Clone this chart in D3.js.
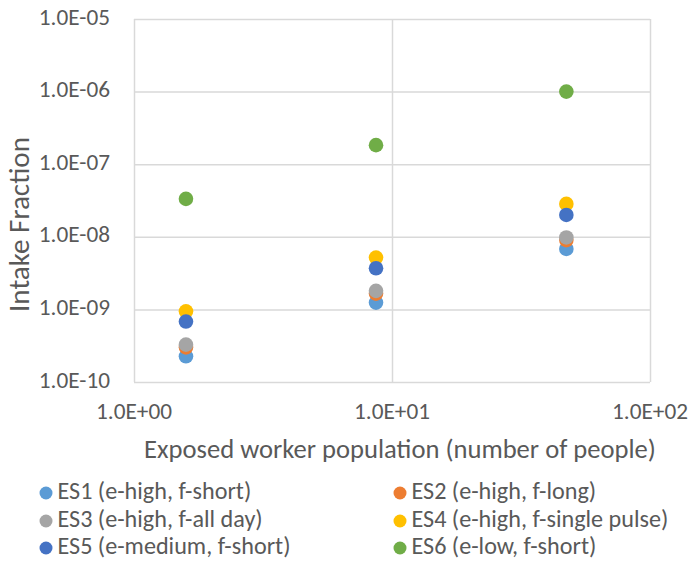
<!DOCTYPE html>
<html>
<head>
<meta charset="utf-8">
<script src="https://cdn.jsdelivr.net/npm/d3@7"></script>
<style>
  html, body { margin: 0; padding: 0; background: #fff; }
  svg { display: block; }
  text { font-family: Carlito, Calibri, Lato, "Open Sans", sans-serif; fill: #595959; }
</style>
</head>
<body>
<svg id="chart" width="691" height="563"></svg>
<script>
// ---- data ----
const xValues = [1.59, 8.67, 47.4];   // exposed worker population
const seriesNames = [
  "ES1 (e-high, f-short)",
  "ES2 (e-high, f-long)",
  "ES3 (e-high, f-all day)",
  "ES4 (e-high, f-single pulse)",
  "ES5 (e-medium, f-short)",
  "ES6 (e-low, f-short)"
];
const es1 = [2.26e-10, 1.24e-9, 6.8e-9];
const es2 = [3.0e-10, 1.65e-9, 9.0e-9];
const es3 = [3.27e-10, 1.80e-9, 9.8e-9];
const es4 = [9.4e-10, 5.18e-9, 2.84e-8];
const es5 = [6.8e-10, 3.69e-9, 2.0e-8];
const es6 = [3.33e-8, 1.83e-7, 1.0e-6];
const seriesColors = ["#5B9BD5", "#ED7D31", "#A5A5A5", "#FFC000", "#4472C4", "#70AD47"];
const xTickValues = [1, 10, 100];
const xTickLabels = ["1.0E+00", "1.0E+01", "1.0E+02"];
const yTickValues = [1e-10, 1e-9, 1e-8, 1e-7, 1e-6, 1e-5];
const yTickLabels = ["1.0E-10", "1.0E-09", "1.0E-08", "1.0E-07", "1.0E-06", "1.0E-05"];
const xTitle = "Exposed worker population (number of people)";
const yTitle = "Intake Fraction";

const seriesValues = [es1, es2, es3, es4, es5, es6];

// ---- layout ----
const svg = d3.select("#chart");
const pLeft = 134, pRight = 650, pTop = 19, pBottom = 382;
const x = d3.scaleLog().domain([1, 100]).range([pLeft, pRight]);
const y = d3.scaleLog().domain([1e-10, 1e-5]).range([pBottom, pTop]);
const gridColor = "#D9D9D9";

function fit(sel, target) {
  sel.attr("font-size", 20);
  const w = sel.node().getComputedTextLength();
  const fs = 20 * target / w;
  sel.attr("font-size", fs);
  return fs;
}

// grid (vertical)
const gx = svg.append("g").attr("transform", `translate(0,${pBottom})`)
  .call(d3.axisBottom(x).tickValues(xTickValues).tickSize(-(pBottom - pTop)).tickFormat(""));
gx.select(".domain").remove();
gx.selectAll("line").attr("stroke", gridColor).attr("stroke-width", 1.5);

// grid (horizontal)
const gy = svg.append("g").attr("transform", `translate(${pLeft},0)`)
  .call(d3.axisLeft(y).tickValues(yTickValues).tickSize(-(pRight - pLeft)).tickFormat(""));
gy.select(".domain").remove();
gy.selectAll("line").attr("stroke", gridColor).attr("stroke-width", 1.5);

// tick labels
const xl = svg.append("g").selectAll("text").data(xTickValues).join("text")
  .attr("x", d => x(d)).attr("y", 413)
  .attr("text-anchor", "middle").attr("dominant-baseline", "middle")
  .text((d, i) => xTickLabels[i]);
const fsx = fit(d3.select(xl.nodes()[0]), 76);
xl.attr("font-size", fsx);

const yl = svg.append("g").selectAll("text").data(yTickValues).join("text")
  .attr("x", 110).attr("y", d => y(d))
  .attr("text-anchor", "end").attr("dominant-baseline", "middle")
  .text((d, i) => yTickLabels[i]);
yl.attr("font-size", fsx);

// axis titles
const xt = svg.append("text").attr("x", 400).attr("y", 452)
  .attr("text-anchor", "middle").attr("dominant-baseline", "middle").text(xTitle);
fit(xt, 512);

const yt = svg.append("text")
  .attr("transform", `translate(22,224.5) rotate(-90)`)
  .attr("text-anchor", "middle").attr("dominant-baseline", "middle").text(yTitle);
fit(yt, 175);

// points
seriesValues.forEach((vals, si) => {
  svg.append("g").selectAll("circle").data(vals).join("circle")
    .attr("cx", (d, i) => x(xValues[i]))
    .attr("cy", d => y(d))
    .attr("r", 7.3)
    .attr("fill", seriesColors[si]);
});

// legend
const legendCols = [46, 400];
const legendRows = [493, 521, 548];
const items = svg.append("g").selectAll("g").data(seriesNames).join("g")
  .attr("transform", (d, i) => `translate(${legendCols[i % 2]},${legendRows[Math.floor(i / 2)]})`);
items.append("circle").attr("r", 6.5).attr("fill", (d, i) => seriesColors[i]);
const lt = items.append("text").attr("x", 11.5).attr("dominant-baseline", "middle").text(d => d);
const fsl = fit(d3.select(lt.nodes()[3]), 257);
lt.attr("font-size", fsl);
</script>
</body>
</html>
